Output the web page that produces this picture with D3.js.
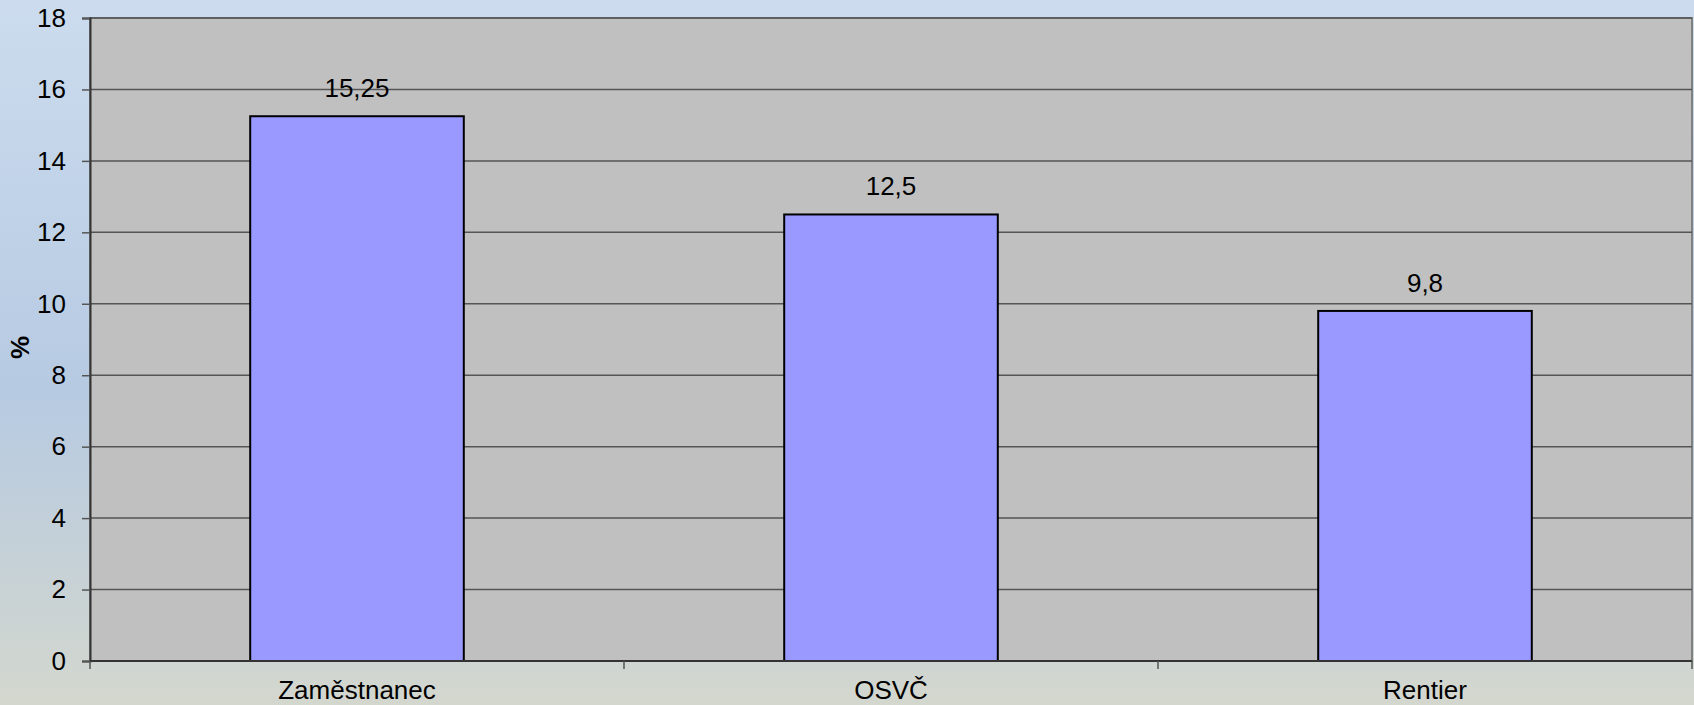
<!DOCTYPE html>
<html>
<head>
<meta charset="utf-8">
<script src="https://cdn.jsdelivr.net/npm/d3@7"></script>
<style>
  html, body { margin: 0; padding: 0; overflow: hidden; }
  svg { display: block; font-family: "Liberation Sans", Arial, sans-serif; }
</style>
</head>
<body>
<script>
// ---------------------- DATA ----------------------
const categories = ["Zaměstnanec", "OSVČ", "Rentier"];
const values = [15.25, 12.5, 9.8];
const valueLabels = ["15,25", "12,5", "9,8"];
const yTicks = [0, 2, 4, 6, 8, 10, 12, 14, 16, 18];

const width = 1694, height = 705;
const margin = { left: 90, right: 2, top: 18, bottom: 44 };

const svg = d3.select("body").append("svg")
    .attr("width", width)
    .attr("height", height);

// background gradient
const defs = svg.append("defs");
const grad = defs.append("linearGradient")
    .attr("id", "bg")
    .attr("x1", 0).attr("y1", 0).attr("x2", 0).attr("y2", 1);
grad.append("stop").attr("offset", "0%").attr("stop-color", "#ccdcee");
grad.append("stop").attr("offset", "55%").attr("stop-color", "#b6cae2");
grad.append("stop").attr("offset", "100%").attr("stop-color", "#d3d7ce");

svg.append("rect")
    .attr("width", width).attr("height", height)
    .attr("fill", "url(#bg)");

const x = d3.scaleBand()
    .domain(categories)
    .range([margin.left, width - margin.right]);

const y = d3.scaleLinear()
    .domain([0, 18])
    .range([height - margin.bottom, margin.top]);

const plotW = width - margin.right - margin.left;
const plotH = y(0) - y(18);

// plot area
svg.append("rect")
    .attr("x", margin.left).attr("y", y(18))
    .attr("width", plotW).attr("height", plotH)
    .attr("fill", "#c0c0c0")
    .attr("stroke", "#808080")
    .attr("stroke-width", 2);

// gridlines
svg.append("g")
    .selectAll("line")
    .data(yTicks.filter(d => d > 0))
    .join("line")
    .attr("x1", margin.left).attr("x2", width - margin.right)
    .attr("y1", d => y(d)).attr("y2", d => y(d))
    .attr("stroke", "#555")
    .attr("stroke-width", 1.5);

// bars
const barW = x.bandwidth() * 0.4;
svg.append("g")
    .selectAll("rect")
    .data(values)
    .join("rect")
    .attr("x", (d, i) => x(categories[i]) + x.bandwidth() / 2 - barW / 2)
    .attr("y", d => y(d))
    .attr("width", barW)
    .attr("height", d => y(0) - y(d))
    .attr("fill", "#9999ff")
    .attr("stroke", "#000")
    .attr("stroke-width", 2);

// value labels
svg.append("g")
    .selectAll("text")
    .data(values)
    .join("text")
    .attr("x", (d, i) => x(categories[i]) + x.bandwidth() / 2)
    .attr("y", d => y(d) - 19)
    .attr("text-anchor", "middle")
    .attr("font-size", 26)
    .attr("fill", "#000")
    .text((d, i) => valueLabels[i]);

// y axis
const yAxis = svg.append("g")
    .attr("transform", `translate(${margin.left},0)`)
    .call(d3.axisLeft(y).tickValues(yTicks).tickSize(8).tickPadding(16));
yAxis.select(".domain").attr("stroke", "#333").attr("stroke-width", 2);
yAxis.selectAll(".tick line").attr("stroke", "#555").attr("stroke-width", 1.5);
yAxis.selectAll(".tick text")
    .attr("font-size", 26)
    .attr("fill", "#000")
    .attr("font-family", "Liberation Sans, Arial, sans-serif");

// x axis
const xAxisG = svg.append("g")
    .attr("transform", `translate(0,${y(0)})`);
xAxisG.append("line")
    .attr("x1", margin.left).attr("x2", width - margin.right)
    .attr("stroke", "#333").attr("stroke-width", 2);
const bounds = categories.map(c => x(c)).concat([x(categories[categories.length - 1]) + x.bandwidth()]);
xAxisG.selectAll(".xtick")
    .data(bounds)
    .join("line")
    .attr("class", "xtick")
    .attr("x1", d => d).attr("x2", d => d)
    .attr("y1", 0).attr("y2", 8)
    .attr("stroke", "#555").attr("stroke-width", 1.5);
xAxisG.selectAll("text")
    .data(categories)
    .join("text")
    .attr("x", d => x(d) + x.bandwidth() / 2)
    .attr("y", 38)
    .attr("text-anchor", "middle")
    .attr("font-size", 26)
    .attr("fill", "#000")
    .text(d => d);

// y axis title
svg.append("text")
    .attr("transform", `translate(29,${(y(0) + y(18)) / 2 + 8}) rotate(-90)`)
    .attr("text-anchor", "middle")
    .attr("font-size", 26)
    .attr("font-weight", "bold")
    .attr("fill", "#000")
    .text("%");
</script>
</body>
</html>
